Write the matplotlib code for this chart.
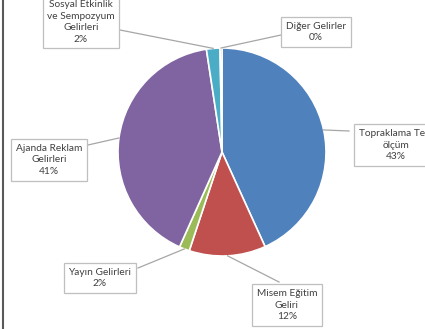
import numpy as np
import matplotlib.pyplot as plt

# gelir kalemleri (saat yönünde, tepeden başlayarak)
labels = ['Topraklama Test\nölçüm', 'Misem Eğitim\nGeliri', 'Yayın Gelirleri',
          'Ajanda Reklam\nGelirleri', 'Sosyal Etkinlik\nve Sempozyum\nGelirleri', 'Diğer Gelirler']
values = [43.2, 11.9, 1.6, 40.9, 2.1, 0.3]
pct_text = ['43%', '12%', '2%', '41%', '2%', '0%']
colors = ['#4F81BD', '#C0504D', '#9BBB59', '#8064A2', '#4BACC6', '#F79646']

# etiket kutularının yerleri (piksel, y yukarı)
label_pos = [(396, 184), (287, 24), (100, 51), (49, 169), (81, 307), (316, 297)]
# bağlantı çizgisinin kutu tarafındaki ucu
box_anchor = [(349, 198), (279, 47), (138, 61), (88, 184), (120, 299), (281, 294)]

W, H = 425, 329
cx, cy, R = 222, 177, 104

fig = plt.figure(figsize=(W / 100, H / 100), dpi=100)
ax = fig.add_axes([0, 0, 1, 1])
ax.set_xlim(0, W)
ax.set_ylim(0, H)
ax.set_aspect('equal')
ax.axis('off')

wedges, _ = ax.pie(values, colors=colors, startangle=90, counterclock=False,
                   center=(cx, cy), radius=R, frame=True,
                   wedgeprops=dict(edgecolor='white', linewidth=1.2))
ax.set_xlim(0, W)
ax.set_ylim(0, H)
ax.axis('off')

for i, w in enumerate(wedges):
    ang = np.deg2rad((w.theta1 + w.theta2) / 2)
    px = cx + R * np.cos(ang)
    py = cy + R * np.sin(ang)
    ax.plot([box_anchor[i][0], px], [box_anchor[i][1], py], color='#A6A6A6', lw=0.9, zorder=1)
    ax.text(label_pos[i][0], label_pos[i][1], labels[i] + '\n' + pct_text[i],
            ha='center', va='center', fontsize=7.3, color='#404040', family='Lato',
            linespacing=1.35, zorder=3,
            bbox=dict(boxstyle='square,pad=0.45', fc='white', ec='#BFBFBF', lw=0.9))

# sol kenar çizgisi
fig.add_artist(plt.Line2D([0.008, 0.008], [0, 1], color='#595959', lw=1.5))

fig.savefig('out.png', dpi=100)
